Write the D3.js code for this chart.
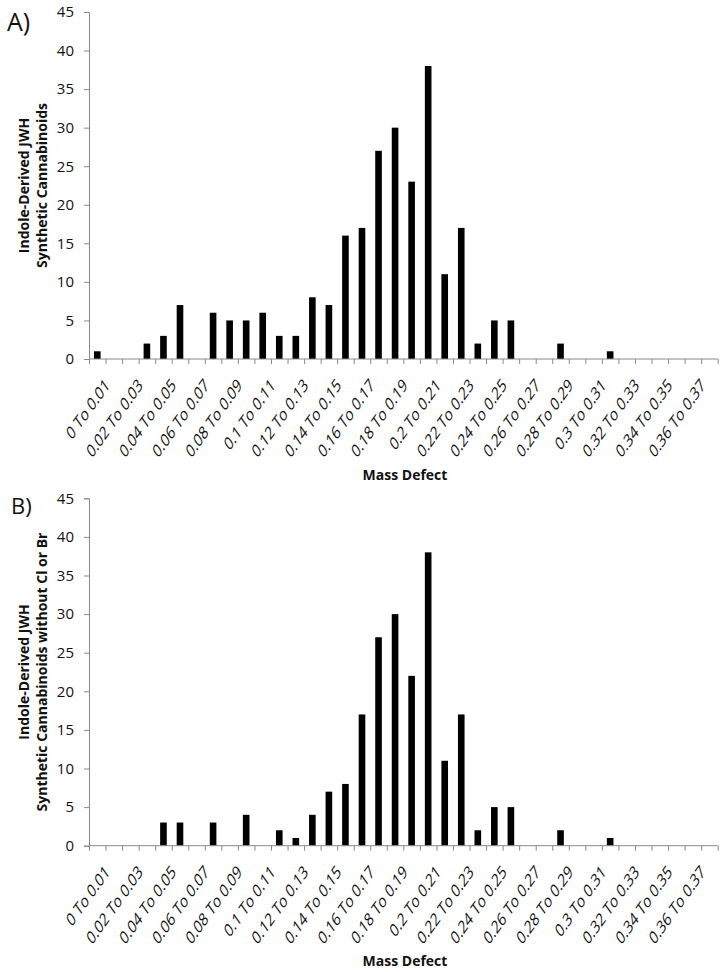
<!DOCTYPE html>
<html><head><meta charset="utf-8">
<script src="https://cdnjs.cloudflare.com/ajax/libs/d3/7.8.5/d3.min.js"></script>
<style>body{margin:0;background:#fff}svg{display:block}</style>
</head><body>
<svg id="c" width="727" height="972"></svg>
<script>
const categories = ["0 To 0.01","0.01 To 0.02","0.02 To 0.03","0.03 To 0.04","0.04 To 0.05","0.05 To 0.06","0.06 To 0.07","0.07 To 0.08","0.08 To 0.09","0.09 To 0.1","0.1 To 0.11","0.11 To 0.12","0.12 To 0.13","0.13 To 0.14","0.14 To 0.15","0.15 To 0.16","0.16 To 0.17","0.17 To 0.18","0.18 To 0.19","0.19 To 0.2","0.2 To 0.21","0.21 To 0.22","0.22 To 0.23","0.23 To 0.24","0.24 To 0.25","0.25 To 0.26","0.26 To 0.27","0.27 To 0.28","0.28 To 0.29","0.29 To 0.3","0.3 To 0.31","0.31 To 0.32","0.32 To 0.33","0.33 To 0.34","0.34 To 0.35","0.35 To 0.36","0.36 To 0.37","0.37 To 0.38"];
const valuesA = [1,0,0,2,3,7,0,6,5,5,6,3,3,8,7,16,17,27,30,23,38,11,17,2,5,5,0,0,2,0,0,1,0,0,0,0,0,0];
const valuesB = [0,0,0,0,3,3,0,3,0,4,0,2,1,4,7,8,17,27,30,22,38,11,17,2,5,5,0,0,2,0,0,1,0,0,0,0,0,0];
const yTicks = [0,5,10,15,20,25,30,35,40,45];
const xLabelEvery = 2;

const svg = d3.select("#c");
const FONT = "'Open Sans', sans-serif";
const AX = "#898989";

function panel(cfg){
  const g = svg.append("g");
  const x = d3.scaleBand().domain(categories).range([89, 717.7]).paddingInner(0.6).paddingOuter(0.3);
  const xl = d3.scaleLinear().domain([0, categories.length]).range([89, 717.7]);
  const y = d3.scaleLinear().domain([0,45]).range([cfg.y0, cfg.y45]);

  const ya = g.append("g").attr("transform","translate(89,0)")
    .call(d3.axisLeft(y).tickValues(yTicks).tickSize(5).tickPadding(10));
  ya.select(".domain").attr("stroke",AX);
  ya.selectAll(".tick line").attr("stroke",AX);
  ya.selectAll(".tick text").attr("font-family",FONT).attr("font-size",15).attr("fill","#111");

  g.selectAll("rect.bar").data(cfg.values).join("rect").attr("class","bar")
    .attr("x",(d,i)=>x(categories[i]))
    .attr("width",x.bandwidth())
    .attr("y",d=>y(d))
    .attr("height",d=>y(0)-y(d))
    .attr("fill","#000");

  const xa = g.append("g").attr("transform",`translate(0,${cfg.y0})`)
    .call(d3.axisBottom(xl).tickValues(d3.range(0,categories.length+1)).tickSize(5).tickFormat(""));
  xa.select(".domain").attr("stroke",AX).attr("d",`M89,0H717.7`);
  xa.selectAll(".tick line").attr("stroke",AX);

  g.selectAll("text.cat").data(categories.filter((c,i)=>i%xLabelEvery===0)).join("text").attr("class","cat")
    .attr("transform",c=>`translate(${x(c)+x.bandwidth()/2+10},${cfg.y0+23}) scale(1,1.4) rotate(-45)`)
    .attr("text-anchor","end").attr("dy","0.35em")
    .attr("font-family",FONT).attr("font-size",13).attr("fill","#111")
    .text(c=>c);

  g.append("text").attr("x",405).attr("y",cfg.xTitleY).attr("text-anchor","middle")
    .attr("font-family",FONT).attr("font-weight","bold").attr("font-size",14).attr("fill","#111")
    .text("Mass Defect");

  const cy = (cfg.y0+cfg.y45)/2;
  const yt = g.append("text").attr("transform",`translate(29,${cy}) rotate(-90)`)
    .attr("text-anchor","middle").attr("font-family",FONT).attr("font-weight","bold").attr("font-size",14).attr("fill","#111");
  cfg.yTitle.forEach((t,i)=>yt.append("tspan").attr("x",0).attr("dy",i===0?0:18).text(t));

  g.append("text").attr("x",cfg.letterX).attr("y",cfg.letterY).attr("font-family",FONT).attr("font-size",cfg.letterSize).attr("fill","#111").text(cfg.letter);
}

panel({values:valuesA, y0:359, y45:12, xTitleY:480, letter:"A)", letterX:7, letterY:31, letterSize:25,
  yTitle:["Indole-Derived JWH","Synthetic Cannabinoids"]});
panel({values:valuesB, y0:845.7, y45:498.3, xTitleY:966, letter:"B)", letterX:11, letterY:514, letterSize:22,
  yTitle:["Indole-Derived JWH","Synthetic Cannabinoids without Cl or Br"]});
</script>
</body></html>
